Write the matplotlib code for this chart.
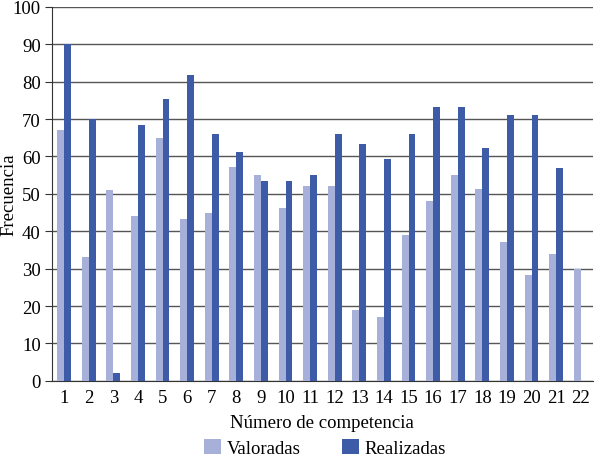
import matplotlib
matplotlib.use("Agg")
import matplotlib.pyplot as plt
import numpy as np

categories = [str(i) for i in range(1, 23)]
valoradas = [67, 33, 51, 44, 65, 43.3, 45, 57.3, 55, 46.3, 52, 52, 19, 17, 39, 48, 55, 51.3, 37, 28.3, 34, 30]
realizadas = [90, 70, 2, 68.3, 75.3, 81.7, 66, 61.3, 53.3, 53.3, 55, 66, 63.3, 59.3, 66, 73.3, 73.3, 62.3, 71, 71, 57, 0]
yticks = list(range(0, 101, 10))

plt.rcParams['font.family'] = ['Liberation Serif', 'DejaVu Serif']

fig = plt.figure(figsize=(5.96, 4.60), dpi=100)
ax = fig.add_axes([0.087, 0.170, 0.908, 0.813])

x = np.arange(1, len(categories) + 1)
w = 0.28
ax.bar(x - w / 2, valoradas, width=w, color='#a7b0d8', label='Valoradas', zorder=3)
ax.bar(x + w / 2, realizadas, width=w, color='#3d5ba6', label='Realizadas', zorder=3)

ax.set_xlim(0.5, len(categories) + 0.5)
ax.set_ylim(0, 100)
ax.set_yticks(yticks)
ax.set_xticks(x)
ax.set_xticklabels(categories)
ax.yaxis.grid(True, color='#555555', linewidth=1.0, zorder=0)
for s in ['top', 'right']:
    ax.spines[s].set_visible(False)
ax.spines['left'].set_color('#333333')
ax.spines['bottom'].set_color('#333333')
ax.tick_params(axis='y', length=5, color='#333333', labelsize=13.5, pad=3)
ax.tick_params(axis='x', length=0, labelsize=13.5, pad=6)

ax.set_xlabel('Número de competencia', fontsize=13.5, labelpad=6)
ax.set_ylabel('Frecuencia', fontsize=13.5)
ax.yaxis.set_label_coords(-0.063, 0.5)

fig.legend(loc='center', bbox_to_anchor=(0.545, 0.024), ncol=2, frameon=False,
           fontsize=13.5, handlelength=0.9, handleheight=0.9, handletextpad=0.3, columnspacing=2.2)

fig.savefig('out.png', dpi=100)
